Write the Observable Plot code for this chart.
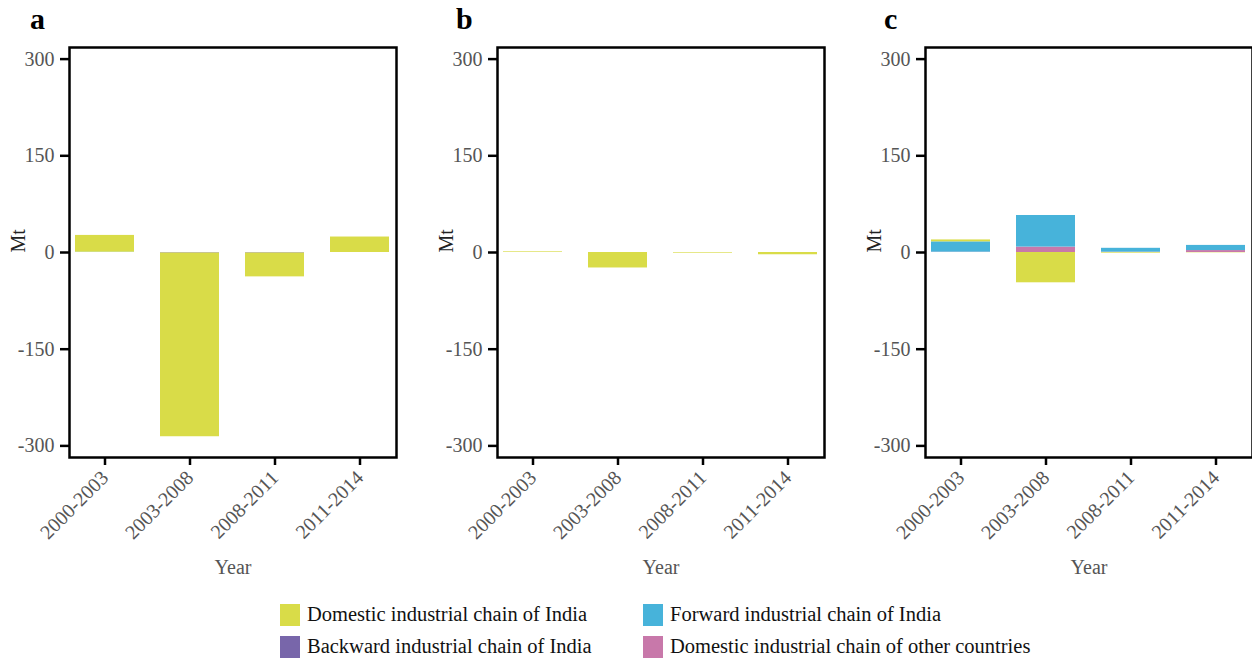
<!DOCTYPE html>
<html>
<head>
<meta charset="utf-8">
<script src="https://cdn.jsdelivr.net/npm/d3@7"></script>
<script src="https://cdn.jsdelivr.net/npm/@observablehq/plot@0.6"></script>
<style>
  html, body { margin: 0; padding: 0; background: #fff; }
  body { width: 1252px; height: 659px; position: relative; overflow: hidden; font-family: "Liberation Serif", serif; }
  .panel { position: absolute; top: 0; width: 428px; height: 590px; }
  .panel svg { max-width: none !important; }
  .letter { position: absolute; top: 2px; font-weight: bold; font-size: 30px; color: #000; }
  .legend { position: absolute; font-size: 20.5px; color: #111; display: flex; align-items: center; white-space: nowrap; }
  .legend span.sw { display: inline-block; width: 20px; height: 22px; margin-right: 7px; }
</style>
</head>
<body>
<div id="a" class="panel" style="left:0px"></div>
<div id="b" class="panel" style="left:428px"></div>
<div id="c" class="panel" style="left:856px"></div>
<div class="letter" style="left:30px">a</div>
<div class="letter" style="left:456px">b</div>
<div class="letter" style="left:884px">c</div>
<div id="legend"></div>
<script>
const periods = ["2000-2003", "2003-2008", "2008-2011", "2011-2014"];
const seriesNames = [
  "Domestic industrial chain of other countries",
  "Backward industrial chain of India",
  "Forward industrial chain of India",
  "Domestic industrial chain of India"
];
const seriesColors = ["#c878aa", "#7866aa", "#47b3da", "#d9dc48"];
const legendOrder = [3, 2, 1, 0];
const yTicks = [-300, -150, 0, 150, 300];

// Panel a
const aOther    = [0, 0, 0, 0];
const aBackward = [0, -0.8, -0.8, 0];
const aForward  = [0.5, 0, 0, 0];
const aDomestic = [26, -285, -37, 24];
// Panel b
const bOther    = [0, 0, 0, 0];
const bBackward = [0, 0, 0, 0];
const bForward  = [0, 0, 0, 0];
const bDomestic = [1, -24, -1, -3.5];
// Panel c
const cOther    = [0.5, 8.4, 0.5, 3];
const cBackward = [0, 0, 0, 0];
const cForward  = [16, 49, 6, 8];
const cDomestic = [3, -47, -1, -0.5];

const FONT = "'Liberation Serif', serif";

function rows(arrs) {
  const out = [];
  arrs.forEach((arr, si) => arr.forEach((v, i) => out.push({period: periods[i], series: seriesNames[si], value: v})));
  return out;
}

function panel(id, arrs) {
  const data = rows(arrs);
  const chart = Plot.plot({
    width: 428,
    height: 590,
    marginLeft: 69,
    marginRight: 32,
    marginTop: 47,
    marginBottom: 133,
    style: {fontFamily: FONT, fontSize: "18px", background: "transparent"},
    x: {domain: periods, paddingInner: 0.3, paddingOuter: 0.06, label: null},
    y: {domain: [-318, 318], label: null},
    color: {domain: seriesNames, range: seriesColors},
    marks: [
      Plot.barY(data, {x: "period", y: "value", fill: "series", order: null}),
      Plot.frame({stroke: "#000", strokeWidth: 2.5}),
      Plot.axisY({ticks: yTicks, tickFormat: d => String(d), tickSize: 9, strokeWidth: 2.5, stroke: "#000", fill: "#555", tickPadding: 6, label: null, fontSize: 20, fontFamily: FONT}),
      Plot.text(["Mt"], {frameAnchor: "left", dx: -51, rotate: -90, fontSize: 20, fontFamily: FONT, fill: "#222"}),
      Plot.axisX({tickSize: 8, strokeWidth: 2.5, stroke: "#000", fill: "#555", tickRotate: -45, tickPadding: 9, label: null, fontSize: 20, fontFamily: FONT}),
      Plot.text(["Year"], {frameAnchor: "bottom", dy: 116, fontSize: 20, fontFamily: FONT, fill: "#555"})
    ]
  });
  document.getElementById(id).appendChild(chart);
}

panel("a", [aOther, aBackward, aForward, aDomestic]);
panel("b", [bOther, bBackward, bForward, bDomestic]);
panel("c", [cOther, cBackward, cForward, cDomestic]);

// Legend
const legendPos = [[280, 603], [643, 603], [280, 635], [643, 635]];
const leg = document.getElementById("legend");
legendOrder.forEach((si, k) => {
  const d = document.createElement("div");
  d.className = "legend";
  d.style.left = legendPos[k][0] + "px";
  d.style.top = legendPos[k][1] + "px";
  d.innerHTML = `<span class="sw" style="background:${seriesColors[si]}"></span><span>${seriesNames[si]}</span>`;
  leg.appendChild(d);
});
</script>
</body>
</html>
